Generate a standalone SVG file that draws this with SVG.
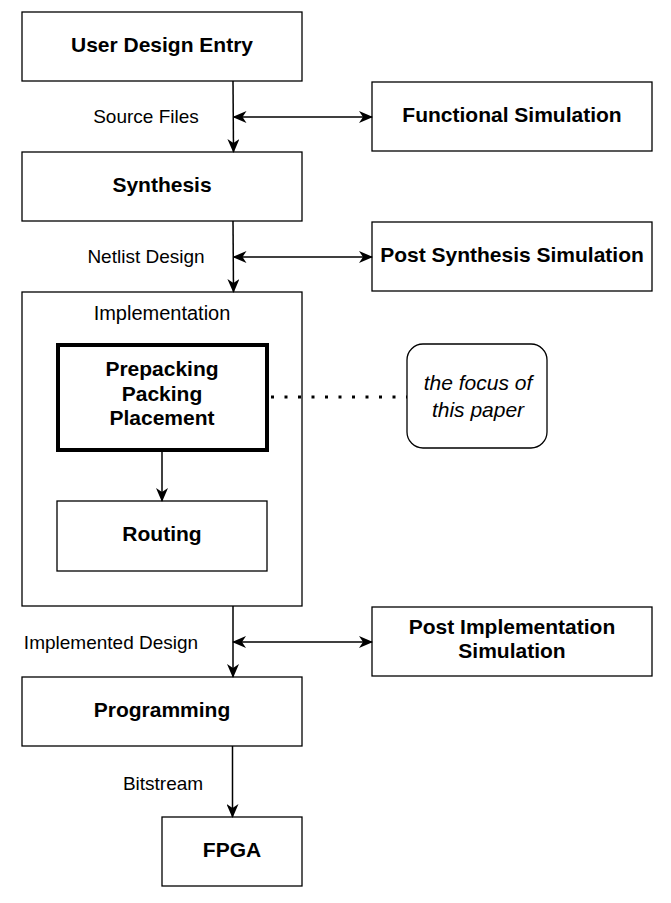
<svg xmlns="http://www.w3.org/2000/svg" width="671" height="903" viewBox="0 0 671 903">
<style>
.box{fill:#fff;stroke:#000;stroke-width:1.3}
.thick{fill:#fff;stroke:#000;stroke-width:4}
.t{font-family:"Liberation Sans",Arial,sans-serif;font-size:21px;font-weight:bold;text-anchor:middle;fill:#000}
.l{font-family:"Liberation Sans",Arial,sans-serif;font-size:19px;text-anchor:middle;fill:#000}
.i{font-family:"Liberation Sans",Arial,sans-serif;font-size:21px;font-style:italic;text-anchor:middle;fill:#000}
.c{fill:none;stroke:#000;stroke-width:1.5}
</style>
<defs>
<marker id="ah" viewBox="0 0 14 12" refX="13" refY="6" markerWidth="14" markerHeight="12" markerUnits="userSpaceOnUse" orient="auto-start-reverse">
<path d="M0,0 L14,6 L0,12 L4,6 Z" fill="#000"/>
</marker>
</defs>
<g id="user-design-entry"><rect class="box" x="22" y="12" width="280" height="69"/><text class="t" x="162" y="52">User Design Entry</text></g>
<g id="functional-simulation"><rect class="box" x="372" y="82" width="280" height="69"/><text class="t" x="512" y="122">Functional Simulation</text></g>
<g id="synthesis"><rect class="box" x="22" y="152" width="280" height="69"/><text class="t" x="162" y="192">Synthesis</text></g>
<g id="post-synthesis-simulation"><rect class="box" x="372" y="222" width="280" height="69"/><text class="t" x="512" y="262">Post Synthesis Simulation</text></g>
<g id="implementation"><rect class="box" x="22" y="292" width="280" height="314"/><text class="l" x="162" y="320" style="font-size:20px">Implementation</text></g>
<g id="prepacking"><rect class="thick" x="58" y="345" width="209" height="105"/><text class="t" x="162" y="376">Prepacking</text><text class="t" x="162" y="401">Packing</text><text class="t" x="162" y="425">Placement</text></g>
<g id="routing"><rect class="box" x="57" y="501" width="210" height="70"/><text class="t" x="162" y="541">Routing</text></g>
<g id="note"><rect class="box" x="407" y="344" width="140" height="104" rx="16"/><text class="i" x="478" y="390">the focus of</text><text class="i" x="478" y="417">this paper</text></g>
<g id="post-implementation-simulation"><rect class="box" x="372" y="607" width="280" height="69"/><text class="t" x="512" y="634">Post Implementation</text><text class="t" x="512" y="658">Simulation</text></g>
<g id="programming"><rect class="box" x="22" y="677" width="280" height="69"/><text class="t" x="162" y="717">Programming</text></g>
<g id="fpga"><rect class="box" x="162" y="817" width="140" height="69"/><text class="t" x="232" y="857">FPGA</text></g>
<g id="connectors">
<path class="c" d="M233,81 L233.5,152" marker-end="url(#ah)"/>
<path class="c" d="M233.5,117 L372,117" marker-start="url(#ah)" marker-end="url(#ah)"/>
<path class="c" d="M233,221 L233.5,292" marker-end="url(#ah)"/>
<path class="c" d="M233.5,257 L372,257" marker-start="url(#ah)" marker-end="url(#ah)"/>
<path class="c" d="M162,452 L162,501" marker-end="url(#ah)"/>
<path d="M271,397 L407,397" fill="none" stroke="#000" stroke-width="3" stroke-dasharray="3,10.5"/>
<path class="c" d="M233,606 L233,677" marker-end="url(#ah)"/>
<path class="c" d="M233,642 L372,642" marker-start="url(#ah)" marker-end="url(#ah)"/>
<path class="c" d="M232.5,746 L232.5,817" marker-end="url(#ah)"/>
<text class="l" x="146" y="123">Source Files</text>
<text class="l" x="146" y="263">Netlist Design</text>
<text class="l" x="111" y="649">Implemented Design</text>
<text class="l" x="163" y="790">Bitstream</text>
</g>
</svg>
